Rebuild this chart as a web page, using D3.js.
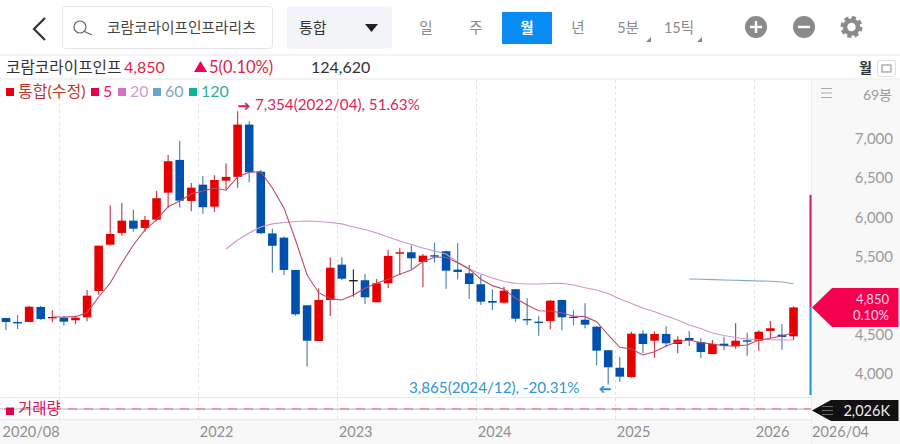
<!DOCTYPE html>
<html>
<head>
<meta charset="utf-8">
<script src="https://cdn.jsdelivr.net/npm/d3@7"></script>
<style>
  body { margin: 0; background: #fff; }
  svg { display: block; }
  text { font-family: Lato, "Noto Sans CJK KR", sans-serif; }
</style>
</head>
<body>
<svg id="chart" width="900" height="444"></svg>
<script>
const months = [
  "2020/08","2020/09","2020/10","2020/11","2020/12",
  "2021/01","2021/02","2021/03","2021/04","2021/05","2021/06","2021/07","2021/08","2021/09","2021/10","2021/11","2021/12",
  "2022/01","2022/02","2022/03","2022/04","2022/05","2022/06","2022/07","2022/08","2022/09","2022/10","2022/11","2022/12",
  "2023/01","2023/02","2023/03","2023/04","2023/05","2023/06","2023/07","2023/08","2023/09","2023/10","2023/11","2023/12",
  "2024/01","2024/02","2024/03","2024/04","2024/05","2024/06","2024/07","2024/08","2024/09","2024/10","2024/11","2024/12",
  "2025/01","2025/02","2025/03","2025/04","2025/05","2025/06","2025/07","2025/08","2025/09","2025/10","2025/11","2025/12",
  "2026/01","2026/02","2026/03","2026/04"
];
const opens = [4715,4664,4664,4856,4719,4719,4686,4724,5060,5651,5801,5958,5864,5970,6315,6733,6209,6417,6136,6468,6516,7184,6583,5794,5741,5328,4877,4421,4945,5396,5200,5197,4916,5158,5536,5554,5430,5516,5567,5332,5286,5145,4932,4910,5082,4702,4668,4677,4945,4732,4693,4604,4303,4080,3962,4515,4425,4511,4383,4460,4409,4255,4387,4354,4430,4425,4549,4502,4481];
const closes = [4664,4655,4859,4702,4728,4668,4719,5000,5638,5788,5958,5855,5967,6244,6716,6213,6379,6129,6477,6516,7184,6576,5797,5637,5328,4762,4425,4945,5357,5217,5200,4979,5158,5507,5554,5477,5511,5498,5319,5303,5149,4923,4910,5064,4706,4686,4651,4936,4724,4715,4630,4298,4086,3966,4515,4383,4511,4392,4438,4430,4281,4383,4358,4425,4412,4540,4584,4472,4850];
const highs = [4715,4753,4872,4868,4813,4741,4744,5073,5638,6154,6184,6098,6018,6337,6797,6979,6439,6528,6537,6686,7354,7227,6605,5855,5756,5328,4881,5094,5490,5490,5337,5277,5213,5583,5605,5643,5532,5677,5575,5669,5392,5264,5082,5115,5085,4967,4741,4945,4945,4813,4903,4613,4306,4221,4540,4558,4545,4609,4481,4549,4456,4434,4476,4647,4527,4558,4677,4639,4865];
const lows = [4562,4575,4664,4690,4660,4617,4635,4673,5013,5643,5766,5817,5817,5950,6116,6124,6078,6047,6069,6359,6379,6448,5788,5294,5260,4744,4093,4421,4741,5200,4987,4894,4916,5098,5264,5337,5107,5421,5089,5209,4958,4885,4817,4903,4664,4622,4489,4571,4558,4622,4584,4111,3865,3902,3953,4264,4208,4341,4264,4358,4204,4252,4303,4323,4234,4298,4456,4310,4434];
const ma5 = [null,null,null,null,4728,4728,4732,4783,4983,5162,5417,5647,5839,5967,6136,6209,6299,6337,6375,6346,6516,6576,6583,6375,6120,5711,5264,5038,4962,4945,5009,5094,5158,5209,5273,5328,5434,5490,5490,5421,5341,5209,5128,5082,4967,4881,4808,4805,4779,4741,4732,4668,4498,4341,4319,4243,4285,4358,4412,4434,4400,4383,4361,4358,4370,4434,4456,4485,4527];
const ma20 = [null,null,null,null,null,null,null,null,null,null,null,null,null,null,null,null,null,null,null,5596,5711,5801,5877,5916,5935,5947,5954,5947,5935,5916,5877,5845,5801,5749,5698,5654,5609,5571,5532,5430,5341,5277,5226,5181,5156,5149,5149,5156,5158,5137,5102,5073,5028,4958,4900,4843,4796,4741,4690,4626,4581,4524,4492,4466,4447,4441,4437,4434,4434];
const ma60Months = ["2025/07","2025/08","2025/09","2025/10","2025/11","2025/12","2026/01","2026/02","2026/03","2026/04"];
const ma60 = [5213,5209,5205,5200,5196,5192,5188,5184,5175,5153];

// 5,000 sits behind the price tag in the reference
const priceTicks = [4000, 4500, 5500, 6000, 6500, 7000];
const gridMonths = ["2021/01","2022/01","2023/01","2024/01","2025/01","2026/01"];
const gridLabels = ["2020/08","2022","2023","2024","2025","2026"];
const legendNames = ["통합(수정)","5","20","60","120"];
const periodNames = ["일","주","월","년","5분","15틱"];

const svg = d3.select("#chart");
const x = d3.scaleBand().domain(months).range([0.2, 799.3]).paddingInner(0.26).paddingOuter(0.13);
const cx = (m) => x(m) + x.bandwidth() / 2;
const y = d3.scaleLinear().domain([4000, 7000]).range([374, 139]);

const RED = "#e60000", BLUE = "#0050ad", PINK = "#f5004f", GREY = "#8a8a8a";

// side panels
svg.append("rect").attr("x", 811).attr("y", 80).attr("width", 89).attr("height", 364).attr("fill", "#f8f8f8");
svg.append("rect").attr("x", 0).attr("y", 419).attr("width", 900).attr("height", 25).attr("fill", "#f8f8f8");
[[0, 900, 55], [0, 900, 79], [0, 811, 397.5], [0, 811, 419.5]].forEach(([a, b, ly]) => {
  svg.append("line").attr("x1", a).attr("x2", b).attr("y1", ly).attr("y2", ly).attr("stroke", "#e8e8e8");
});
svg.append("line").attr("x1", 811.5).attr("x2", 811.5).attr("y1", 80).attr("y2", 444).attr("stroke", "#ececec");

// vertical grid
svg.selectAll(".grid").data(gridMonths).enter().append("line")
  .attr("class", "grid")
  .attr("x1", (d) => x(d)).attr("x2", (d) => x(d))
  .attr("y1", 80).attr("y2", 419)
  .attr("stroke", "#e2e2e2")
  .attr("stroke-dasharray", "3,3");

// candles
const candles = svg.append("g").selectAll("g").data(months).enter().append("g");
const candleColor = (i) => closes[i] > opens[i] ? RED : closes[i] < opens[i] ? BLUE : "#222";
candles.append("line")
  .attr("x1", (d) => cx(d)).attr("x2", (d) => cx(d))
  .attr("y1", (d, i) => y(highs[i])).attr("y2", (d, i) => y(lows[i]))
  .attr("stroke", (d, i) => closes[i] > opens[i] ? "#c9404f" : closes[i] < opens[i] ? "#4f86ad" : "#333")
  .attr("stroke-width", 1.2);
candles.append("rect")
  .attr("x", (d) => x(d))
  .attr("width", x.bandwidth())
  .attr("y", (d, i) => y(Math.max(opens[i], closes[i])))
  .attr("height", (d, i) => Math.max(1.4, Math.abs(y(opens[i]) - y(closes[i]))))
  .attr("fill", (d, i) => candleColor(i));

// moving averages
const maLine = d3.line()
  .defined((d) => d.v !== null)
  .x((d) => cx(d.m))
  .y((d) => y(d.v));
const drawMa = (ms, vals, color) => svg.append("path")
  .datum(ms.map((m, i) => ({ m, v: vals[i] })))
  .attr("d", maLine)
  .attr("fill", "none")
  .attr("stroke", color)
  .attr("stroke-width", 1.1);
drawMa(months, ma20, "#cf94c9");
drawMa(ma60Months, ma60, "#7fa9c4");
drawMa(months, ma5, "#bd4a68");

// price axis
const yAxis = svg.append("g")
  .attr("transform", "translate(893,0)")
  .call(d3.axisRight(y).tickValues(priceTicks).tickFormat(d3.format(",")).tickSize(0));
yAxis.select(".domain").remove();
yAxis.selectAll("text")
  .attr("x", 0).attr("text-anchor", "end")
  .attr("fill", "#9a9a9a").attr("font-size", 15)
  .style("font-family", "Lato");

// time axis, labels hang off the grid lines
const xAxis = svg.append("g")
  .attr("transform", "translate(0,419)")
  .call(d3.axisBottom(x).tickValues(gridMonths).tickSize(0).tickFormat((d, i) => gridLabels[i]));
xAxis.select(".domain").remove();
xAxis.selectAll("text")
  .attr("y", 18).attr("dy", 0)
  .attr("text-anchor", (d, i) => i === 0 ? "end" : "start")
  .attr("dx", (d, i) => i === 0 ? -4.3 : -3)
  .attr("fill", "#8f8f8f").attr("font-size", 14.5)
  .style("font-family", "Lato");
svg.append("text").attr("x", 812).attr("y", 437).attr("fill", "#8f8f8f").attr("font-size", 14.5).text(months[months.length - 1]);

// range bar on the right edge
svg.append("line").attr("x1", 810.5).attr("x2", 810.5).attr("y1", y(6286)).attr("y2", y(closes[68]))
  .attr("stroke", "#d8155a").attr("stroke-width", 2);
svg.append("line").attr("x1", 810.5).attr("x2", 810.5).attr("y1", y(closes[68])).attr("y2", y(3732))
  .attr("stroke", "#1f93d6").attr("stroke-width", 2);

// volume pane
svg.append("line").attr("x1", 0).attr("x2", 811).attr("y1", 409).attr("y2", 409)
  .attr("stroke", "#8cc7c7").attr("stroke-width", 1);
svg.append("line").attr("x1", 4).attr("x2", 811).attr("y1", 409).attr("y2", 409)
  .attr("stroke", "#e0608a").attr("stroke-width", 1.1).attr("stroke-dasharray", "9,7");
svg.append("rect").attr("x", 6).attr("y", 407.5).attr("width", 8).attr("height", 7.5).attr("fill", "#e0004d");
svg.append("text").attr("x", 18).attr("y", 414).attr("font-size", 15.5).attr("fill", "#d81b60").text("거래량");

// annotations
svg.append("text").attr("x", 238).attr("y", 110).attr("font-size", 12).attr("font-weight", 700).attr("stroke", "#dc1f5c").attr("stroke-width", 0.6).attr("fill", "#dc1f5c").text("→");
svg.append("text").attr("x", 255).attr("y", 110).attr("font-size", 15.2).attr("fill", "#dc1f5c").text("7,354(2022/04), 51.63%");
svg.append("text").attr("x", 409).attr("y", 393).attr("font-size", 15.2).attr("fill", "#2f96d6").text("3,865(2024/12), -20.31%");
svg.append("text").attr("x", 599).attr("y", 393).attr("font-size", 12).attr("font-weight", 700).attr("stroke", "#2f96d6").attr("stroke-width", 0.6).attr("fill", "#2f96d6").text("←");

// price tag
svg.append("path").attr("d", "M812,307.5L832,288H898.5V327H832Z").attr("fill", PINK);
svg.append("text").attr("x", 889).attr("y", 304).attr("text-anchor", "end").attr("font-size", 13).attr("fill", "#ffd9e4").text("4,850");
svg.append("text").attr("x", 889).attr("y", 319.5).attr("text-anchor", "end").attr("font-size", 13).attr("fill", "#ffd9e4").text("0.10%");

// volume tag
svg.append("path").attr("d", "M812,410.5L831,400H898.5V421H831Z").attr("fill", "#111");
[406.5, 410.5, 414.5].forEach((ly) => {
  svg.append("line").attr("x1", 822).attr("x2", 833).attr("y1", ly).attr("y2", ly).attr("stroke", "#666");
});
svg.append("text").attr("x", 890).attr("y", 416).attr("text-anchor", "end").attr("font-size", 14.5).attr("fill", "#eee").text("2,026K");

// panel corner
[88.5, 93, 97.5].forEach((ly) => {
  svg.append("line").attr("x1", 821).attr("x2", 832).attr("y1", ly).attr("y2", ly).attr("stroke", "#aaa");
});
svg.append("text").attr("x", 892).attr("y", 100).attr("text-anchor", "end").attr("font-size", 14).attr("fill", "#9a9a9a").text("69봉");

// legend
const legendItems = [
  { sq: "#e60012", col: "#c0392b", sx: 6, tx: 18 },
  { sq: "#e6004c", col: "#dc1f5c", sx: 91, tx: 103 },
  { sq: "#d670c8", col: "#d29ad0", sx: 118, tx: 130 },
  { sq: "#66a5d2", col: "#7aa8c9", sx: 153, tx: 165 },
  { sq: "#10b39a", col: "#35ab9c", sx: 189, tx: 201 },
];
const legend = svg.append("g").selectAll("g").data(legendItems).enter().append("g");
legend.append("rect").attr("x", (d) => d.sx).attr("y", 88).attr("width", 8).attr("height", 8).attr("fill", (d) => d.sq);
legend.append("text").attr("x", (d) => d.tx).attr("y", 96.5).attr("font-size", 16).attr("fill", (d) => d.col).text((d, i) => legendNames[i]);

// quote row
svg.append("text").attr("x", 6).attr("y", 73).attr("font-size", 15.7).attr("fill", "#333").text("코람코라이프인프");
svg.append("text").attr("x", 124).attr("y", 73).attr("font-size", 16).attr("fill", "#dc1f4c").text("4,850");
svg.append("path").attr("d", "M194,72L200.5,61L207,72Z").attr("fill", PINK);
svg.append("text").attr("x", 209).attr("y", 73).attr("font-size", 16.5).attr("fill", "#dc1f4c").text("5(0.10%)");
svg.append("text").attr("x", 311).attr("y", 73).attr("font-size", 16).attr("fill", "#333").text("124,620");
svg.append("text").attr("x", 859).attr("y", 73).attr("font-size", 14).attr("font-weight", 700).attr("fill", "#333").text("월");
svg.append("rect").attr("x", 877.5).attr("y", 60.5).attr("width", 18).attr("height", 16).attr("rx", 2).attr("fill", "#fff").attr("stroke", "#ddd");
svg.append("rect").attr("x", 882).attr("y", 65).attr("width", 9).attr("height", 7).attr("fill", "none").attr("stroke", "#888");

// top bar
svg.append("path").attr("d", "M45,18L34,29L45,40").attr("fill", "none").attr("stroke", "#333").attr("stroke-width", 2.2);
svg.append("rect").attr("x", 62.5).attr("y", 6.5).attr("width", 210).attr("height", 42).attr("rx", 3).attr("fill", "#fff").attr("stroke", "#e6e6e6");
svg.append("circle").attr("cx", 80).attr("cy", 27).attr("r", 6).attr("fill", "none").attr("stroke", "#666").attr("stroke-width", 1.2);
svg.append("line").attr("x1", 84.5).attr("y1", 31.5).attr("x2", 92).attr("y2", 35).attr("stroke", "#666").attr("stroke-width", 1.2);
svg.append("text").attr("x", 107).attr("y", 33).attr("font-size", 14.7).attr("fill", "#444").text("코람코라이프인프라리츠");
svg.append("rect").attr("x", 287).attr("y", 6.5).attr("width", 105).attr("height", 42).attr("rx", 3).attr("fill", "#f2f4f7");
svg.append("text").attr("x", 299).attr("y", 33).attr("font-size", 15).attr("fill", "#333").text("통합");
svg.append("path").attr("d", "M365,24H378L371.5,32Z").attr("fill", "#222");
svg.append("rect").attr("x", 502).attr("y", 12).attr("width", 50).attr("height", 32).attr("fill", "#0a8cf5");

const periodX = [426, 476, 527, 578, 628, 679];
svg.append("g").selectAll("text").data(periodNames).enter().append("text")
  .attr("x", (d, i) => periodX[i]).attr("y", 33)
  .attr("text-anchor", "middle").attr("font-size", 14.5)
  .attr("font-weight", (d) => d === "월" ? 700 : 400)
  .attr("fill", (d) => d === "월" ? "#fff" : "#8a8a8a")
  .text((d) => d);
svg.append("path").attr("d", "M651,37V42H646Z").attr("fill", "#8a8a8a");
svg.append("path").attr("d", "M702,37V42H697Z").attr("fill", "#8a8a8a");

svg.append("circle").attr("cx", 756).attr("cy", 27).attr("r", 11).attr("fill", GREY);
svg.append("path").attr("d", "M750,27H762M756,21V33").attr("stroke", "#fff").attr("stroke-width", 2.4);
svg.append("circle").attr("cx", 804).attr("cy", 27).attr("r", 11).attr("fill", GREY);
svg.append("path").attr("d", "M798,27H810").attr("stroke", "#fff").attr("stroke-width", 2.4);
svg.append("circle").attr("cx", 851.5).attr("cy", 27).attr("r", 6.5).attr("fill", "none").attr("stroke", GREY).attr("stroke-width", 4.5);
svg.append("circle").attr("cx", 851.5).attr("cy", 27).attr("r", 9.5).attr("fill", "none").attr("stroke", GREY).attr("stroke-width", 3).attr("stroke-dasharray", "4.2,3.26");
</script>
</body>
</html>
